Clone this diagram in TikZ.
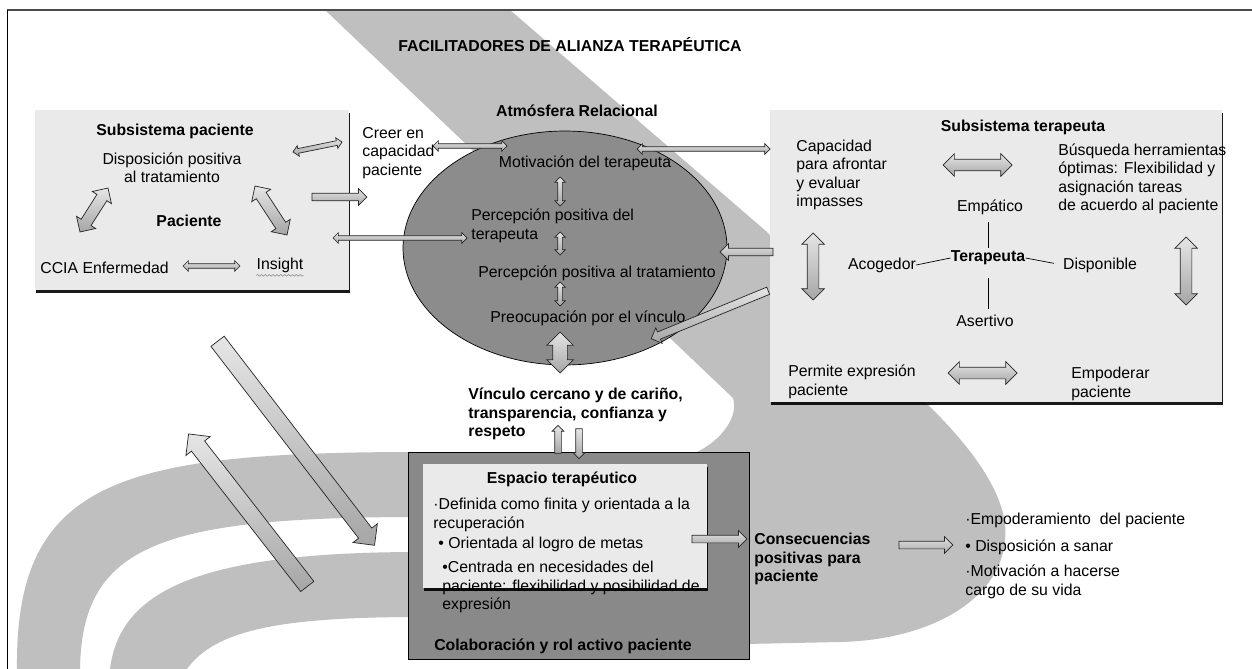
\documentclass[tikz,border=0pt]{standalone}
\usepackage{fontspec}
\setmainfont{Liberation Sans}
\usetikzlibrary{shapes.geometric,shapes.arrows,shadows,calc,decorations.pathmorphing}
\definecolor{band}{HTML}{BFBFBF}
\definecolor{panelgray}{HTML}{EAEAEA}
\definecolor{atmgray}{HTML}{8C8C8C}
\definecolor{boxgray}{HTML}{898989}
\tikzstyle{every node}=[font=\fontsize{9}{10.5}\selectfont, inner sep=0pt]
\tikzstyle{hd}=[font=\fontsize{9}{10.5}\selectfont\bfseries]
\tikzstyle{panel}=[fill=panelgray, drop shadow={shadow xshift=0.4pt, shadow yshift=-1.6pt, fill=black, opacity=.9}]
\tikzstyle{arr}=[draw=black!85, thin, top color=gray!20, bottom color=gray!70, inner xsep=0pt, allow upside down]
\tikzstyle{hugearr}=[arr, single arrow, inner ysep=.16cm, single arrow head extend=.14cm]
\tikzstyle{bigarr}=[arr, double arrow, inner ysep=.11cm, double arrow head extend=.11cm]
\tikzstyle{fatarr}=[arr, double arrow, inner ysep=.14cm, double arrow head extend=.12cm]
\tikzstyle{midarr}=[arr, single arrow, inner ysep=.07cm, single arrow head extend=.09cm]
\tikzstyle{smallarr}=[arr, single arrow, inner ysep=.06cm, single arrow head extend=.05cm]
\tikzstyle{thinarr}=[arr, double arrow, inner ysep=.04cm, double arrow head extend=.06cm]
% block arrow between two named points
\newcommand\blockarrow[3]{\path let \p1=($(#3)-(#2)$), \n1={veclen(\x1,\y1)} in
  (#2) -- (#3) node[#1, midway, sloped, minimum height=\n1] {};}

\begin{document}
\begin{tikzpicture}[x=0.02cm, y=-0.02cm]
  \useasboundingbox (0,0) rectangle (1252,669);
  \fill[white] (0,0) rectangle (1252,669);

  % background bands
  \fill[band] (325,10) -- (510,10) -- (767,232) -- (925,402)
    .. controls (975,450) and (1010,500) .. (1005,540)
    .. controls (1000,600) and (930,640) .. (840,642) -- (700,645) -- (690,455)
    .. controls (715,446) and (740,420) .. (733,398) -- cycle;
  \fill[band] (17,669) .. controls (15,480) and (120,452) .. (420,452) -- (420,517)
    .. controls (160,517) and (82,545) .. (80,669) -- cycle;
  \fill[band] (110,669) .. controls (120,590) and (200,552) .. (420,552) -- (420,617)
    .. controls (280,617) and (215,630) .. (187,669) -- cycle;
  \draw[black!70, line width=1.2pt] (7,10) -- (1252,10);
  \draw (7,10) -- (7,669);

  \node[hd] (title) at (570,45) {FACILITADORES DE ALIANZA TERAPÉUTICA};

  % subsistema paciente
  \node[panel, minimum width=6.28cm, minimum height=3.6cm] (pacbox) at (192,200) {};
  \node[hd] (pactit) at (175,131) {Subsistema paciente};
  \node[align=center] (disp) at (172,168) {Disposición positiva\\al tratamiento};
  \node[hd] (paci) at (189,221) {Paciente};
  \node[anchor=west] (ccia) at (40,268) {CCIA Enfermedad};
  \node (ins) at (280,265) {Insight};
  \draw[gray!80, decorate, decoration={snake, amplitude=.5pt, segment length=2.2pt}]
    ([yshift=-1.5pt]ins.south west) -- ([yshift=-1.5pt]ins.south east);
  \node[anchor=west, align=left] (creer) at (362,153) {Creer en\\capacidad\\paciente};

  % atmosfera relacional
  \node[ellipse, draw, thin, fill=atmgray, minimum width=6.48cm, minimum height=4.68cm] (atm) at (565,248) {};
  \node[hd] (atmtit) at (577,111) {Atmósfera Relacional};
  \node (mot) at (585,163) {Motivación del terapeuta};
  \node[anchor=west, align=left] (perc1) at (471,226) {Percepción positiva del\\terapeuta};
  \node (perc2) at (597,273) {Percepción positiva al tratamiento};
  \node (preo) at (588,318) {Preocupación por el vínculo};

  % subsistema terapeuta
  \node[panel, minimum width=9.04cm, minimum height=5.84cm] (terbox) at (996,256) {};
  \node[hd] (tertit) at (1023,127) {Subsistema terapeuta};
  \node[anchor=west, align=left] (capac) at (796,175) {Capacidad\\para afrontar\\y evaluar\\impasses};
  \node[anchor=west, align=left] (busq) at (1058,179) {Búsqueda herramientas\\óptimas: Flexibilidad y\\asignación tareas\\de acuerdo al paciente};
  \node (emp) at (990,207) {Empático};
  \node[hd] (ter) at (988,258) {Terapeuta};
  \node (acog) at (882,265) {Acogedor};
  \node (dispo) at (1100,265) {Disponible};
  \node (aser) at (985,321) {Asertivo};
  \node[anchor=west, align=left] (perm) at (788,382) {Permite expresión\\paciente};
  \node[anchor=west, align=left] (empod) at (1071,384) {Empoderar\\paciente};
  \draw[shorten <=4pt, shorten >=1.5pt] (emp.south -| ter) -- (ter.north);
  \draw[shorten <=7pt, shorten >=3.5pt] (ter.south) -- (aser.north -| ter);
  \draw (acog.east) -- (ter.west);
  \draw[shorten >=5pt] (ter.east) -- (dispo.west);

  % espacio terapeutico
  \node[hd, anchor=west, align=left] (vinc) at (468,414) {Vínculo cercano y de cariño,\\transparencia, confianza y\\respeto};
  \node[draw, thin, fill=boxgray, minimum width=6.82cm, minimum height=4.14cm] (outbox) at (578.5,555.5) {};
  \node[panel, minimum width=5.68cm, minimum height=2.48cm] (espbox) at (565,526) {};
  \node[hd] (esptit) at (562,479) {Espacio terapéutico};
  \node[anchor=west, align=left] (def) at (433,515) {·Definida como finita y orientada a la\\recuperación};
  \node[anchor=west] (orient) at (438,544) {• Orientada al logro de metas};
  \node[anchor=west, align=left] (centr) at (442,587) {•Centrada en necesidades del\\paciente: flexibilidad y posibilidad de\\expresión};
  \node[hd] (colab) at (563,646) {Colaboración y rol activo paciente};
  \node[hd, anchor=west, align=left] (conse) at (754,559) {Consecuencias\\positivas para\\paciente};
  \node[anchor=west, align=left] (result) at (965,556) {·Empoderamiento\ \ del paciente\\[4.6pt]
    • Disposición a sanar\\[4pt]·Motivación a hacerse\\cargo de su vida};

  % arrow ends
  \foreach \n/\a/\b in {dispL/108/188, cciaU/80/232, dispR/255/186, insU/287/235,
      cciaR/183/266, insL/240/266, pacA/293/152, pacB/342/142, pacC/310/197, atmA/365/197,
      pacD/333/238, atmB/467/238, creerA/433/146, creerB/507/146,
      motA/560/177, motB/560/206, percA/560/232, percB/560/255, prA/560/282, prB/560/306,
      preoA/560/332, preoB/560/373, atmC/637/149, terA/770/149, terB/775/252, atmD/722/252,
      terC/770/290, atmE/653/338, capR/943/165, busL/1012/165, capA/813/233, capB/813/300,
      busA/1186/237, busB/1186/305, permR/948/373, empL/1017/373,
      vincA/558/455, vincB/558/427, vincC/579/427, vincD/579/457,
      espA/690/539, espB/745/539, conA/897/545, conB/951/545,
      lfA/215/338, lfB/372/542, lfC/310/590, lfD/191/437}
    \coordinate (\n) at (\a,\b);

  \blockarrow{bigarr}{cciaU}{dispL}
  \blockarrow{bigarr}{dispR}{insU}
  \blockarrow{thinarr}{cciaR}{insL}
  \blockarrow{thinarr}{pacA}{pacB}
  \blockarrow{midarr}{pacC}{atmA}
  \blockarrow{thinarr}{pacD}{atmB}
  \blockarrow{thinarr}{creerA}{creerB}
  \blockarrow{thinarr}{motA}{motB}
  \blockarrow{thinarr}{percA}{percB}
  \blockarrow{thinarr}{prA}{prB}
  \blockarrow{fatarr}{preoA}{preoB}
  \blockarrow{thinarr}{atmC}{terA}
  \blockarrow{midarr}{terB}{atmD}
  \blockarrow{midarr}{terC}{atmE}
  \blockarrow{bigarr}{capR}{busL}
  \blockarrow{bigarr}{capA}{capB}
  \blockarrow{bigarr}{busA}{busB}
  \blockarrow{bigarr}{permR}{empL}
  \blockarrow{smallarr}{vincA}{vincB}
  \blockarrow{smallarr}{vincC}{vincD}
  \blockarrow{midarr}{espA}{espB}
  \blockarrow{midarr}{conA}{conB}
  \blockarrow{hugearr}{lfA}{lfB}
  \blockarrow{hugearr}{lfC}{lfD}
\end{tikzpicture}
\end{document}
